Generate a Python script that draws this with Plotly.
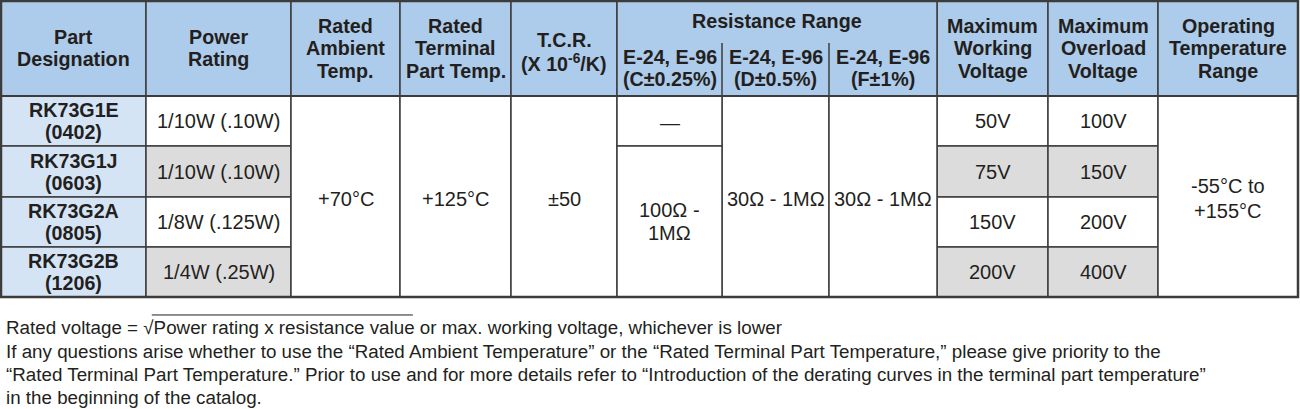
import plotly.graph_objects as go

# ---- table content ----
part_names = ["RK73G1E", "RK73G1J", "RK73G2A", "RK73G2B"]
part_sizes = ["(0402)", "(0603)", "(0805)", "(1206)"]
power_ratings = ["1/10W (.10W)", "1/10W (.10W)", "1/8W (.125W)", "1/4W (.25W)"]
working_voltage = ["50V", "75V", "150V", "200V"]
overload_voltage = ["100V", "150V", "200V", "400V"]
rated_ambient = "+70°C"
rated_terminal = "+125°C"
tcr = "±50"
res_c = ["—", "100Ω -<br>1MΩ"]
res_d = "30Ω - 1MΩ"
res_f = "30Ω - 1MΩ"
op_temp = "-55°C to<br>+155°C"

headers = [
    "Part<br>Designation",
    "Power<br>Rating",
    "Rated<br>Ambient<br>Temp.",
    "Rated<br>Terminal<br>Part Temp.",
    "T.C.R.<br>(X 10<sup>-6</sup>/K)",
    None, None, None,
    "Maximum<br>Working<br>Voltage",
    "Maximum<br>Overload<br>Voltage",
    "Operating<br>Temperature<br>Range",
]
group_header = "Resistance Range"
sub_headers = ["E-24, E-96<br>(C±0.25%)", "E-24, E-96<br>(D±0.5%)", "E-24, E-96<br>(F±1%)"]

notes = [
    "Rated voltage = √Power rating x resistance value or max. working voltage, whichever is lower",
    "If any questions arise whether to use the “Rated Ambient Temperature” or the “Rated Terminal Part Temperature,” please give priority to the",
    "“Rated Terminal Part Temperature.” Prior to use and for more details refer to “Introduction of the derating curves in the terminal part temperature”",
    "in the beginning of the catalog.",
]

# ---- layout (pixels) ----
col_edges = [1, 146, 291, 400, 511, 617, 722, 829, 937, 1048, 1158, 1298]
head_top, head_mid, head_bot = 1, 43, 96
row_edges = [96, 146, 197, 247, 297]

HEAD_BG = "#adcbea"
PART_BG = "#d5e4f5"
GRAY_BG = "#dcdcdc"
LINE = "#3c3c3c"
TXT = "#231f20"
FONT = "Liberation Sans, Arial, sans-serif"

HEAD_SIZE = 19.7
BODY_SIZE = 20
PART_SIZE = 19.7
NOTE_SIZE = 18.8
NOTE_X = 4

fig = go.Figure()


def add_cell(c0, c1, r0, r1, fill, line=True):
    fig.add_shape(
        type="rect", x0=c0, x1=c1, y0=r0, y1=r1,
        fillcolor=fill, line=dict(color=LINE, width=1.5 if line else 0),
        layer="below",
    )


def add_text(xc, yc, text, size, bold=False, line_h=22.5):
    lines = text.split("<br>")
    n = len(lines)
    for i, ln in enumerate(lines):
        y = yc + (i - (n - 1) / 2) * line_h
        fig.add_annotation(
            x=xc, y=y, text=f"<b>{ln}</b>" if bold else ln,
            showarrow=False, xanchor="center", yanchor="middle",
            font=dict(family=FONT, size=size, color=TXT),
        )


def mid(a, b):
    return (a + b) / 2


# header
for i, h in enumerate(headers):
    if h is None:
        continue
    add_cell(col_edges[i], col_edges[i + 1], head_top, head_bot, HEAD_BG)
    yc = mid(head_top, head_bot) + (3 if i == 4 else -0.5)
    add_text(mid(col_edges[i], col_edges[i + 1]), yc, h, HEAD_SIZE, bold=True)

add_cell(col_edges[5], col_edges[8], head_top, head_bot, HEAD_BG)
add_text(mid(col_edges[5], col_edges[8]), 21, group_header, HEAD_SIZE, bold=True)
for j, sh in enumerate(sub_headers):
    x0, x1 = col_edges[5 + j], col_edges[6 + j]
    add_text(mid(x0, x1), 68, sh, HEAD_SIZE, bold=True)
    if j > 0:
        fig.add_shape(type="line", x0=x0, x1=x0, y0=head_mid, y1=head_bot,
                      line=dict(color=LINE, width=1.5))

body_top, body_bot = row_edges[0], row_edges[-1]
body_mid = mid(body_top, body_bot) + 2

# per-row columns
for r in range(len(part_names)):
    y0, y1 = row_edges[r], row_edges[r + 1]
    ym = mid(y0, y1)
    shade = GRAY_BG if r % 2 else "white"
    add_cell(col_edges[0], col_edges[1], y0, y1, PART_BG)
    add_text(mid(col_edges[0], col_edges[1]), ym, f"{part_names[r]}<br>{part_sizes[r]}", PART_SIZE, bold=True, line_h=22)
    add_cell(col_edges[1], col_edges[2], y0, y1, shade)
    add_text(mid(col_edges[1], col_edges[2]), ym, power_ratings[r], BODY_SIZE)
    add_cell(col_edges[8], col_edges[9], y0, y1, shade)
    add_text(mid(col_edges[8], col_edges[9]), ym, working_voltage[r], BODY_SIZE)
    add_cell(col_edges[9], col_edges[10], y0, y1, shade)
    add_text(mid(col_edges[9], col_edges[10]), ym, overload_voltage[r], BODY_SIZE)

# spanning columns
for ci, val in [(2, rated_ambient), (3, rated_terminal), (4, tcr), (6, res_d), (7, res_f), (10, op_temp)]:
    add_cell(col_edges[ci], col_edges[ci + 1], body_top, body_bot, "white")
    add_text(mid(col_edges[ci], col_edges[ci + 1]), body_mid, val, BODY_SIZE, line_h=25)

add_cell(col_edges[5], col_edges[6], row_edges[0], row_edges[1], "white")
add_text(mid(col_edges[5], col_edges[6]), mid(row_edges[0], row_edges[1]) + 2, res_c[0], BODY_SIZE)
add_cell(col_edges[5], col_edges[6], row_edges[1], body_bot, "white")
add_text(mid(col_edges[5], col_edges[6]), mid(row_edges[1], body_bot), res_c[1], BODY_SIZE, line_h=23)

# heavier outer frame and header rule
fig.add_shape(type="rect", x0=col_edges[0], x1=col_edges[-1], y0=head_top, y1=body_bot,
              line=dict(color=LINE, width=2.5))
fig.add_shape(type="line", x0=col_edges[0], x1=col_edges[-1], y0=head_bot, y1=head_bot,
              line=dict(color=LINE, width=2))

# footnotes
note_y = [327, 351, 374, 397]
for y, t in zip(note_y, notes):
    fig.add_annotation(x=NOTE_X, y=y, text=t, showarrow=False, xanchor="left", yanchor="middle",
                       font=dict(family=FONT, size=NOTE_SIZE, color=TXT))

# radical bar over "Power rating x resistance value" (widths in em of the sans font)
bar_x0 = NOTE_X + 7.86 * NOTE_SIZE
bar_x1 = bar_x0 + 13.89 * NOTE_SIZE
fig.add_shape(type="line", x0=bar_x0, x1=bar_x1, y0=note_y[0] - 0.64 * NOTE_SIZE,
              y1=note_y[0] - 0.64 * NOTE_SIZE, line=dict(color=TXT, width=1))

fig.update_layout(
    width=1300, height=409,
    margin=dict(l=0, r=0, t=0, b=0),
    paper_bgcolor="white", plot_bgcolor="white",
    xaxis=dict(range=[0, 1300], visible=False, fixedrange=True),
    yaxis=dict(range=[409, 0], visible=False, fixedrange=True),
    showlegend=False,
)
fig.write_html(
    "out.html",
    config={"displayModeBar": False},
    post_script="document.body.style.margin='0';",
)
